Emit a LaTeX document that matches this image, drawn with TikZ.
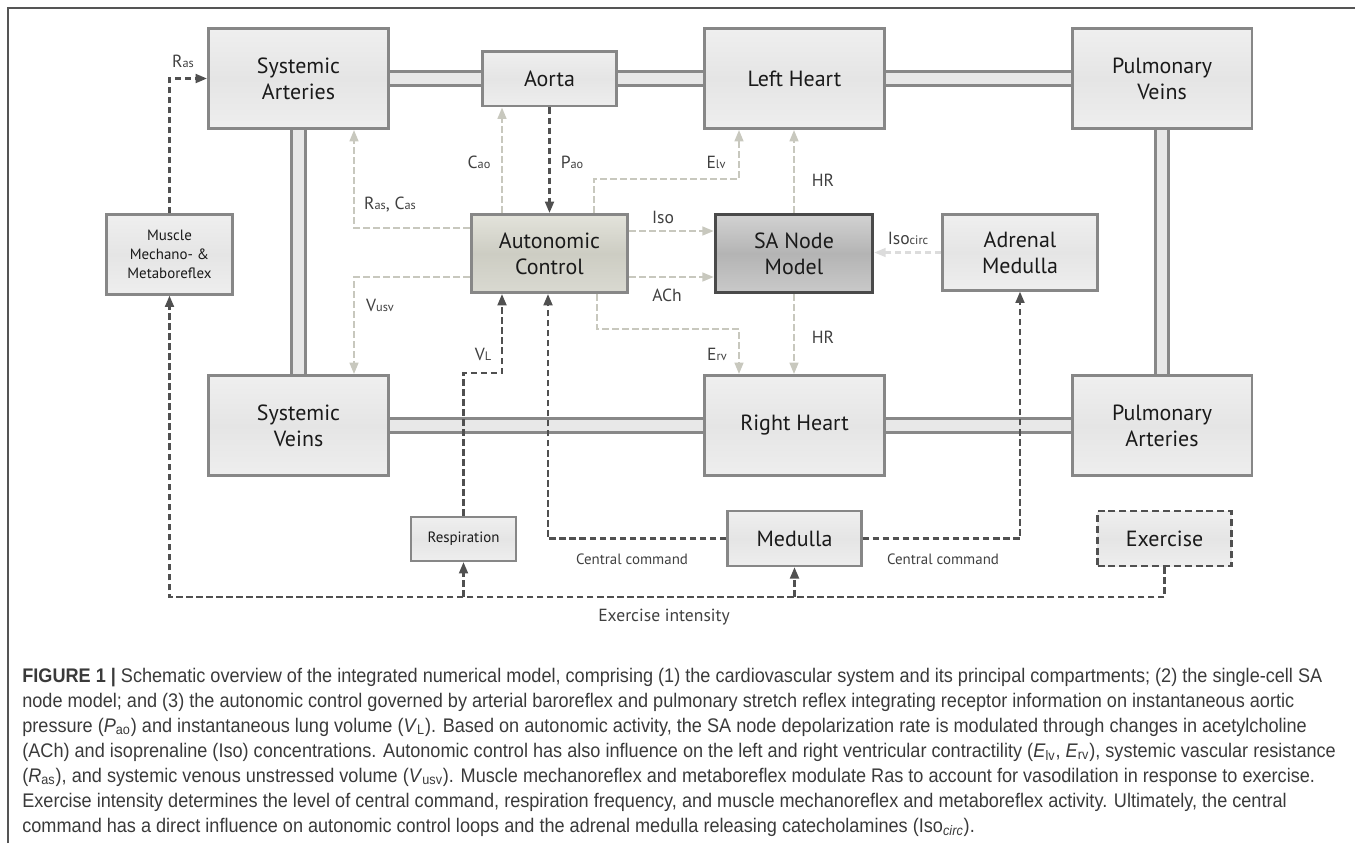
\documentclass[tikz,border=0pt]{standalone}
\usepackage{fontspec}
\setmainfont{PT Sans}
\newfontfamily\capfont[FakeStretch=0.92]{Liberation Sans}
\usepackage{xcolor}
\usepackage{tikz}
\usetikzlibrary{arrows.meta}
\definecolor{framegray}{HTML}{555555}
\definecolor{boxborder}{HTML}{878787}
\definecolor{boxtop}{HTML}{EFEFEF}
\definecolor{boxmid}{HTML}{E5E5E5}
\definecolor{boxbottom}{HTML}{EEEEEE}
\definecolor{autotop}{HTML}{E3E3DB}
\definecolor{automid}{HTML}{CDCDC3}
\definecolor{autobottom}{HTML}{D9D9D1}
\definecolor{satop}{HTML}{D2D2D2}
\definecolor{samid}{HTML}{B4B4B4}
\definecolor{sabottom}{HTML}{C9C9C9}
\definecolor{saborder}{HTML}{4A4A4A}
\definecolor{pipegray}{HTML}{888888}
\definecolor{pipefill}{HTML}{E8E8E8}
\definecolor{linkdark}{HTML}{505050}
\definecolor{linklight}{HTML}{C8C8BE}
\definecolor{linkfaint}{HTML}{DCDCDC}
\definecolor{textdark}{HTML}{1A1A1A}
\definecolor{textgray}{HTML}{404040}
\definecolor{captiongray}{HTML}{3A3A3A}
\newcommand\lsub[1]{{\fontsize{7}{8}\selectfont#1}}
\pgfdeclarelayer{background}
\pgfsetlayers{background,main}

\begin{document}
\begin{tikzpicture}[x=0.02cm, y=-0.02cm,
    compartment/.style={draw=boxborder, line width=1.7pt, top color=boxtop, bottom color=boxbottom, middle color=boxmid,
        align=center, text=textdark, inner sep=0pt, font=\fontsize{12.5}{14.7}\selectfont},
    bigbox/.style={compartment, minimum width=3.6cm, minimum height=2.0cm},
    smallbox/.style={compartment, line width=1.2pt, font=\fontsize{8.5}{10.8}\selectfont},
    autobox/.style={compartment, top color=autotop, bottom color=autobottom, middle color=automid},
    sanode/.style={compartment, draw=saborder, line width=2pt, top color=satop, bottom color=sabottom, middle color=samid},
    exbox/.style={compartment, draw=linkdark, line width=1.3pt, dash pattern=on 4pt off 2.2pt},
    pipeouter/.style={draw=pipegray, line width=9.6pt},
    pipeinner/.style={draw=pipefill, line width=6.2pt},
    ctrldark/.style={draw=linkdark, line width=1.4pt, dash pattern=on 3.8pt off 1.9pt, -{Triangle[length=6.5pt, width=5pt]}},
    ctrllight/.style={draw=linklight, line width=1.2pt, dash pattern=on 3.8pt off 1.9pt, -{Triangle[length=6.5pt, width=5pt]}},
    ctrlfaint/.style={ctrllight, draw=linkfaint},
    lbl/.style={text=textgray, inner sep=1pt, font=\fontsize{10}{12}\selectfont},
    smalllbl/.style={lbl, font=\fontsize{8.5}{10}\selectfont},
    captext/.style={text=captiongray, inner sep=0pt, anchor=base west, font=\capfont\fontsize{11.2}{13}\selectfont}]
    \useasboundingbox (0,0) rectangle (1355,843);

    % Figure frame
    \draw[framegray, line width=0.8pt] (8,843) -- (8,8) -- (1355,8);

    % Circulation compartments
    \node[bigbox] (sa) at (298.5,78.5) {Systemic\\Arteries};
    \node[compartment, minimum width=2.68cm, minimum height=1.1cm] (ao) at (549.5,78.5) {Aorta};
    \node[bigbox] (lh) at (794.5,78.5) {Left Heart};
    \node[bigbox] (pv) at (1162,78.5) {Pulmonary\\Veins};
    \node[bigbox] (sv) at (298.5,425.5) {Systemic\\Veins};
    \node[bigbox] (rh) at (794.5,425.5) {Right Heart};
    \node[bigbox] (pa) at (1162,425.5) {Pulmonary\\Arteries};

    % Vessels between compartments
    \begin{pgfonlayer}{background}
        \foreach \a/\b in {sa.east/ao.west, ao.east/lh.west, lh.east/pv.west, sv.east/rh.west,
                           rh.east/pa.west, sa.south/sv.north, pv.south/pa.north} {
            \draw[pipeouter] (\a) -- (\b);
            \draw[pipeinner] (\a) -- (\b);
        }
    \end{pgfonlayer}

    % Control blocks
    \node[autobox, minimum width=3.12cm, minimum height=1.56cm] (ac) at (549.5,253.5) {Autonomic\\Control};
    \node[sanode, minimum width=3.14cm, minimum height=1.56cm] (san) at (794,253.5) {SA Node\\Model};
    \node[compartment, line width=1.2pt, minimum width=3.1cm, minimum height=1.52cm] (adr) at (1020,252.5) {Adrenal\\Medulla};
    \node[smallbox, minimum width=2.52cm, minimum height=1.6cm] (mus) at (169.5,254.5) {Muscle\\Mechano- \&\\Metaboreflex};
    \node[smallbox, minimum width=2.1cm, minimum height=0.88cm] (resp) at (463.5,539) {Respiration};
    \node[compartment, line width=1.3pt, minimum width=2.68cm, minimum height=1.1cm] (med) at (794.5,538.5) {Medulla};
    \node[exbox, minimum width=2.68cm, minimum height=1.1cm] (ex) at (1164.5,538.5) {Exercise};

    % Bend points
    \coordinate (rasbend) at (354,228);
    \coordinate (usvbend) at (354,277);
    \coordinate (caox) at (502,0);
    \coordinate (elv1) at (594,179);
    \coordinate (elv2) at (739,179);
    \coordinate (erv1) at (597,329);
    \coordinate (erv2) at (739,329);
    \coordinate (isoy) at (0,231);
    \coordinate (achy) at (0,277);
    \coordinate (vl2) at (502,373);
    \coordinate (ccx) at (548,0);
    \coordinate (exy) at (0,597);

    % Autonomic outputs
    \draw[ctrllight] (ac.west |- rasbend) -| (sa.south -| rasbend);
    \draw[ctrllight] (ac.west |- usvbend) -| (sv.north -| usvbend);
    \draw[ctrllight] (ac.north -| caox) -- (ao.south -| caox);
    \draw[ctrllight] (ac.north -| elv1) -- (elv1) -- (elv2) -- (lh.south -| elv2);
    \draw[ctrllight] (ac.south -| erv1) -- (erv1) -- (erv2) -- (rh.north -| erv2);
    \draw[ctrllight] (ac.east |- isoy) -- (san.west |- isoy);
    \draw[ctrllight] (ac.east |- achy) -- (san.west |- achy);
    \draw[ctrllight] (san.north) -- (lh.south -| san.north);
    \draw[ctrllight] (san.south) -- (rh.north -| san.south);
    \draw[ctrlfaint] (adr.west) -- (san.east |- adr.west);

    % Afferent and feedforward signals
    \draw[ctrldark] (ao.south) -- (ac.north);
    \draw[ctrldark] (mus.north) |- (sa.west);
    \draw[ctrldark] (resp.north) |- (vl2) -- (ac.south -| vl2);
    \draw[ctrldark] (med.west) -| (ac.south -| ccx);
    \draw[ctrldark] (med.east) -| (adr.south);
    \draw[ctrldark] (ex.south) |- (mus.south |- exy) -- (mus.south);
    \draw[ctrldark] (resp.south |- exy) -- (resp.south);
    \draw[ctrldark] (med.south |- exy) -- (med.south);

    % Signal labels
    \node[lbl] (lrasm) at (183,61) {R\lsub{as}};
    \node[lbl] (lrascas) at (390,205) {R\lsub{as}, C\lsub{as}};
    \node[lbl] (lcao) at (479,162) {C\lsub{ao}};
    \node[lbl] (lpao) at (572,162) {P\lsub{ao}};
    \node[lbl] (lelv) at (716,162) {E\lsub{lv}};
    \node[lbl] (lhrup) at (823,180) {HR};
    \node[lbl] (liso) at (663,217) {Iso};
    \node[lbl] (lach) at (667,295) {ACh};
    \node[lbl] (lisoc) at (908,238) {Iso\lsub{circ}};
    \node[lbl] (lusv) at (380,305) {V\lsub{usv}};
    \node[lbl] (lhrdown) at (823,337) {HR};
    \node[lbl] (lerv) at (717,354) {E\lsub{rv}};
    \node[lbl] (lvl) at (483,354) {V\lsub{L}};
    \node[smalllbl] (lccleft) at (632,559) {Central command};
    \node[smalllbl] (lccright) at (943,559) {Central command};
    \node[lbl] (lexint) at (664,617) {Exercise intensity};

    % Caption
    \node[captext] (cap1) at (22,682) {{\bfseries FIGURE 1 |} Schematic overview of the integrated numerical model, comprising (1) the cardiovascular system and its principal compartments; (2) the single-cell SA};
    \node[captext] (cap2) at (22,707) {node model; and (3) the autonomic control governed by arterial baroreflex and pulmonary stretch reflex integrating receptor information on instantaneous aortic};
    \node[captext] (cap3) at (22,732) {pressure (\textit{P}\textsubscript{ao}) and instantaneous lung volume (\textit{V}\textsubscript{L}). Based on autonomic activity, the SA node depolarization rate is modulated through changes in acetylcholine};
    \node[captext] (cap4) at (22,757) {(ACh) and isoprenaline (Iso) concentrations. Autonomic control has also influence on the left and right ventricular contractility (\textit{E}\textsubscript{lv}, \textit{E}\textsubscript{rv}), systemic vascular resistance};
    \node[captext] (cap5) at (22,782) {(\textit{R}\textsubscript{as}), and systemic venous unstressed volume (\textit{V}\textsubscript{usv}). Muscle mechanoreflex and metaboreflex modulate Ras to account for vasodilation in response to exercise.};
    \node[captext] (cap6) at (22,807) {Exercise intensity determines the level of central command, respiration frequency, and muscle mechanoreflex and metaboreflex activity. Ultimately, the central};
    \node[captext] (cap7) at (22,832) {command has a direct influence on autonomic control loops and the adrenal medulla releasing catecholamines (Iso\textsubscript{\textit{circ}}).};
\end{tikzpicture}
\end{document}
